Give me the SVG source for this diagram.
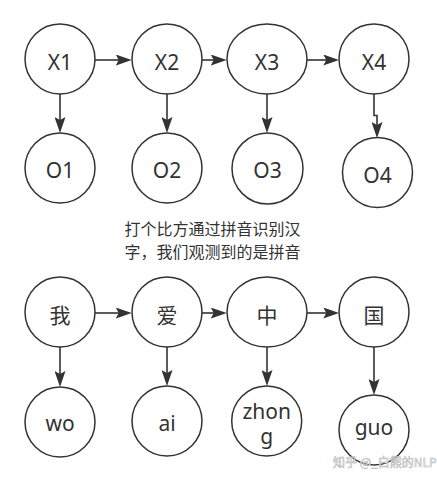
<svg xmlns="http://www.w3.org/2000/svg" width="437" height="487" viewBox="0 0 437 487">
<style>
.n{fill:#fff;stroke:#333;stroke-width:1.5}
.t{font-family:"Noto Sans","Noto Sans CJK SC",sans-serif;font-size:21px;fill:#333;text-anchor:middle}
.c{font-family:"Noto Sans CJK SC","Noto Sans",sans-serif;font-size:16px;fill:#333;text-anchor:middle}
.e{fill:none;stroke:#333;stroke-width:1.6}
.w{font-family:"Noto Sans CJK SC",sans-serif;font-size:12px;fill:#fff;stroke:#bbb;stroke-width:0.6;text-anchor:start}
</style>
<defs>
<marker id="a" viewBox="0 0 16 11" refX="8" refY="5.5" markerWidth="16" markerHeight="11" markerUnits="userSpaceOnUse" orient="auto">
<path d="M0,0 L16,5.5 L0,11 L3,5.5 Z" fill="#333"/>
</marker>
</defs>
<rect width="437" height="487" fill="#fff"/>
<g id="connectors">
<line class="e" x1="95" y1="60" x2="123.7" y2="60" marker-end="url(#a)"/>
<line class="e" x1="201.7" y1="60" x2="218.7" y2="60" marker-end="url(#a)"/>
<line class="e" x1="306.7" y1="60" x2="331.3" y2="60" marker-end="url(#a)"/>
<line class="e" x1="60" y1="94" x2="60" y2="125" marker-end="url(#a)"/>
<line class="e" x1="167" y1="94" x2="167" y2="125" marker-end="url(#a)"/>
<line class="e" x1="267" y1="94" x2="267" y2="125" marker-end="url(#a)"/>
<path class="e" d="M374,94 V115.5 H377 V130" marker-end="url(#a)"/>
<line class="e" x1="95" y1="313" x2="123.7" y2="313" marker-end="url(#a)"/>
<line class="e" x1="201.7" y1="313" x2="218.7" y2="313" marker-end="url(#a)"/>
<line class="e" x1="306.7" y1="313" x2="331.3" y2="313" marker-end="url(#a)"/>
<line class="e" x1="60" y1="347" x2="60" y2="379" marker-end="url(#a)"/>
<line class="e" x1="167" y1="347" x2="167" y2="378" marker-end="url(#a)"/>
<line class="e" x1="267" y1="347" x2="267" y2="378" marker-end="url(#a)"/>
<line class="e" x1="374" y1="347" x2="374" y2="387" marker-end="url(#a)"/>
</g>
<g id="X1"><circle class="n" cx="60" cy="59" r="35"/><text class="t" x="60" y="70">X1</text></g>
<g id="X2"><circle class="n" cx="167" cy="59" r="35"/><text class="t" x="167" y="70">X2</text></g>
<g id="X3"><ellipse class="n" cx="267" cy="59" rx="40" ry="35"/><text class="t" x="267" y="70">X3</text></g>
<g id="X4"><circle class="n" cx="374" cy="59" r="35"/><text class="t" x="374" y="70">X4</text></g>
<g id="O1"><circle class="n" cx="60" cy="168" r="35"/><text class="t" x="60" y="178">O1</text></g>
<g id="O2"><circle class="n" cx="167" cy="168" r="35"/><text class="t" x="167" y="178">O2</text></g>
<g id="O3"><circle class="n" cx="267.5" cy="168.5" r="35.5"/><text class="t" x="267.5" y="178">O3</text></g>
<g id="O4"><circle class="n" cx="377.5" cy="172.5" r="35"/><text class="t" x="377.5" y="182.5">O4</text></g>
<g id="caption">
<text class="c" x="212.5" y="235">打个比方通过拼音识别汉</text>
<text class="c" x="212.5" y="257.5">字，我们观测到的是拼音</text>
</g>
<g id="wo3"><circle class="n" cx="60" cy="312" r="35"/><text class="t" x="60" y="322.5">我</text></g>
<g id="ai4"><circle class="n" cx="167" cy="312" r="35"/><text class="t" x="167" y="322.5">爱</text></g>
<g id="zhong1"><ellipse class="n" cx="267" cy="312" rx="40" ry="35"/><text class="t" x="267" y="322.5">中</text></g>
<g id="guo2"><circle class="n" cx="374" cy="312" r="35"/><text class="t" x="374" y="322.5">国</text></g>
<g id="wo"><circle class="n" cx="60" cy="422" r="35"/><text class="t" x="60" y="431">wo</text></g>
<g id="ai"><circle class="n" cx="167" cy="421" r="35"/><text class="t" x="167" y="431">ai</text></g>
<g id="zhong"><circle class="n" cx="266.7" cy="421" r="35"/><text class="t" x="266.7" y="419">zhon</text><text class="t" x="266.7" y="444">g</text></g>
<g id="guo"><circle class="n" cx="374" cy="430" r="35"/><text class="t" x="374" y="435">guo</text></g>
<text class="w" x="333" y="467">知乎 @_白熊的NLP</text>
</svg>
